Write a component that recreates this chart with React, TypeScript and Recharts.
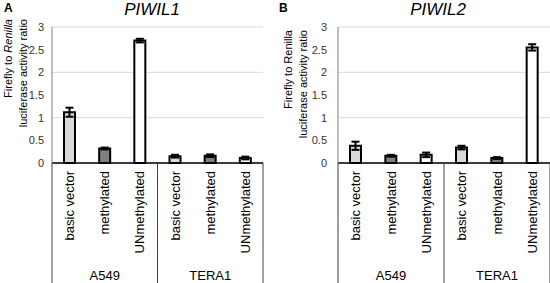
import React from 'react';
import { BarChart, Bar, XAxis, YAxis, CartesianGrid, Cell, ErrorBar } from 'recharts';

const categories = ['basic vector', 'methylated', 'UNmethylated', 'basic vector', 'methylated', 'UNmethylated'];
const groups = ['A549', 'TERA1'];
const yTicks = [0, 0.5, 1, 1.5, 2, 2.5, 3];

const piwil1Values = [1.12, 0.32, 2.7, 0.15, 0.16, 0.11];
const piwil1Errors = [0.1, 0.02, 0.04, 0.03, 0.03, 0.03];
const piwil2Values = [0.38, 0.16, 0.18, 0.34, 0.11, 2.55];
const piwil2Errors = [0.09, 0.02, 0.05, 0.04, 0.02, 0.07];

const FILLS = ['#d9d9d9', '#7f7f7f', '#ffffff'];
const FONT = '"Liberation Sans", Arial, sans-serif';

const buildData = (values: number[], errors: number[]) =>
  categories.map((name, i) => ({ name, value: values[i], err: errors[i] }));

const CategoryTick = (props: any) => {
  const { x, y, payload, index } = props;
  const half = payload?.offset || 17.6;
  return (
    <g>
      <text
        x={x}
        y={y}
        transform={`rotate(-90, ${x}, ${y})`}
        textAnchor="end"
        dy="0.35em"
        fontSize={13}
        fontFamily={FONT}
        fill="#000"
      >
        {payload.value}
      </text>
      {index % 3 === 0 && (
        <line x1={x - half} x2={x - half} y1={y - 8} y2={y + 120} stroke="#404040" strokeWidth={1} />
      )}
      {index === 5 && (
        <line x1={x + half} x2={x + half} y1={y - 8} y2={y + 120} stroke="#404040" strokeWidth={1} />
      )}
      {index % 3 === 1 && (
        <text x={x} y={y + 109} textAnchor="middle" fontSize={13} fontFamily={FONT} fill="#000">
          {groups[Math.floor(index / 3)]}
        </text>
      )}
    </g>
  );
};

interface PanelProps {
  letter: string;
  title: string;
  values: number[];
  errors: number[];
  italicRenilla: boolean;
  leftWidth: number;
  rightMargin: number;
  labelX: [number, number];
  labelTop: number;
  titleX: number;
}

const Panel: React.FC<PanelProps> = ({ letter, title, values, errors, italicRenilla, leftWidth, rightMargin, labelX, labelTop, titleX }) => {
  const data = buildData(values, errors);
  const axisLabel = () => (
    <g fontFamily={FONT} fontSize={11} fill="#000">
      <text x={labelX[0]} y={labelTop} transform={`rotate(-90, ${labelX[0]}, ${labelTop})`} textAnchor="end" dy="0.35em">
        Firefly to <tspan fontStyle={italicRenilla ? 'italic' : 'normal'}>Renilla</tspan>
      </text>
      <text x={labelX[1]} y={labelTop} transform={`rotate(-90, ${labelX[1]}, ${labelTop})`} textAnchor="end" dy="0.35em">
        luciferase activity ratio
      </text>
    </g>
  );
  return (
    <div style={{ position: 'relative', width: 275, height: 283 }}>
      <div style={{ position: 'absolute', left: 4, top: 2, fontFamily: FONT, fontWeight: 'bold', fontSize: 12, lineHeight: 1 }}>
        {letter}
      </div>
      <div
        style={{
          position: 'absolute',
          left: titleX - 60,
          width: 120,
          top: 1,
          textAlign: 'center',
          fontFamily: FONT,
          fontStyle: 'italic',
          fontSize: 17,
          lineHeight: 1,
        }}
      >
        {title}
      </div>
      <BarChart width={275} height={283} data={data} margin={{ top: 27, right: rightMargin, bottom: 0, left: 0 }}>
        <CartesianGrid vertical={false} stroke="#d9d9d9" />
        <XAxis
          dataKey="name"
          height={120}
          tickLine={false}
          axisLine={{ stroke: '#000', strokeWidth: 1.5 }}
          tick={<CategoryTick />}
          interval={0}
        />
        <YAxis
          width={leftWidth}
          domain={[0, 3]}
          ticks={yTicks}
          tickLine={false}
          axisLine={{ stroke: '#7f7f7f' }}
          tick={{ fontSize: 11, fill: '#333', fontFamily: FONT }}
          tickMargin={leftWidth > 55 ? 5 : 2}
          label={{ content: axisLabel }}
        />
        <Bar dataKey="value" barSize={11} stroke="#000" strokeWidth={2} isAnimationActive={false}>
          {data.map((_, i) => (
            <Cell key={`cell-${i}`} fill={FILLS[i % 3]} />
          ))}
          <ErrorBar dataKey="err" width={4} stroke="#000" strokeWidth={2} direction="y" />
        </Bar>
      </BarChart>
    </div>
  );
};

const App: React.FC = () => (
  <div style={{ position: 'absolute', left: 0, top: 0, width: 550, height: 283, display: 'flex', background: '#fff' }}>
    <Panel
      letter="A"
      title="PIWIL1"
      values={piwil1Values}
      errors={piwil1Errors}
      italicRenilla
      leftWidth={52}
      rightMargin={12}
      labelX={[8, 23]}
      labelTop={19}
      titleX={152}
    />
    <Panel
      letter="B"
      title="PIWIL2"
      values={piwil2Values}
      errors={piwil2Errors}
      italicRenilla={false}
      leftWidth={63}
      rightMargin={0}
      labelX={[13, 28]}
      labelTop={30}
      titleX={163}
    />
  </div>
);

export default App;
